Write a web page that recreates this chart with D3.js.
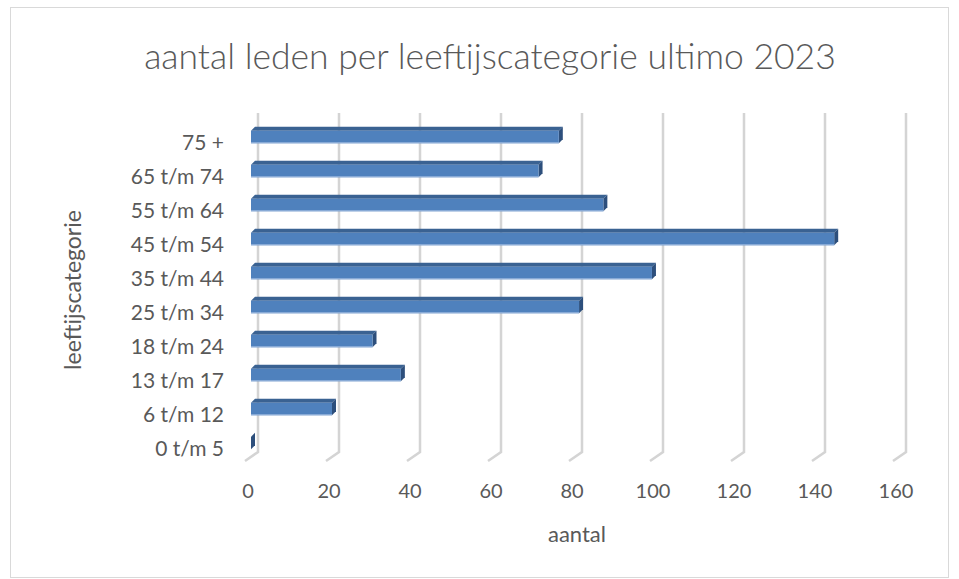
<!DOCTYPE html>
<html>
<head>
<meta charset="utf-8">
<script src="https://cdn.jsdelivr.net/npm/d3@7"></script>
<style>
  body { margin: 0; background: #fff; }
  text { font-family: Lato, "Open Sans", sans-serif; fill: #595959; }
</style>
</head>
<body>
<div id="chart"></div>
<script>
// data, bottom to top as in the chart
var categories = ["0 t/m 5", "6 t/m 12", "13 t/m 17", "18 t/m 24", "25 t/m 34",
                  "35 t/m 44", "45 t/m 54", "55 t/m 64", "65 t/m 74", "75 +"];
var members = [0, 20, 37, 30, 81, 99, 144, 87, 71, 76];
var xTicks = [0, 20, 40, 60, 80, 100, 120, 140, 160];

var width = 959, height = 579;

// 3d look: back wall and floor offset
var wallTop = 113, wallBottom = 452;
var floorDx = -13, floorDy = 9;
var barDx = 4, barDy = -4;

var svg = d3.select('#chart')
    .append('svg')
    .attr('width', width)
    .attr('height', height);

// chart border
svg.append('rect')
    .attr('x', 10.5).attr('y', 7.5)
    .attr('width', 938).attr('height', 570)
    .attr('fill', '#fff')
    .attr('stroke', '#d9d9d9');

// scales
var xBack = d3.scaleLinear().domain([0, 160]).range([258, 906]);
var xFront = d3.scaleLinear().domain([0, 160]).range([251, 899]);

var yScale = d3.scaleBand()
    .domain(categories.slice().reverse())
    .range([120, 460])
    .paddingInner(0.63)
    .paddingOuter(0.315);

// gridlines on back wall + floor
var grid = svg.append('g');
grid.selectAll('path')
    .data(xTicks)
    .enter()
    .append('path')
    .attr('d', d => 'M' + xBack(d) + ',' + wallTop + 'L' + xBack(d) + ',' + wallBottom +
        'L' + (xBack(d) + floorDx) + ',' + (wallBottom + floorDy))
    .attr('fill', 'none')
    .attr('stroke', '#d4d4d4')
    .attr('stroke-width', 2.5);

// tick labels
svg.append('g')
    .selectAll('text')
    .data(xTicks)
    .enter()
    .append('text')
    .attr('x', d => xBack(d) - 10)
    .attr('y', 490)
    .attr('text-anchor', 'middle')
    .attr('dominant-baseline', 'central')
    .style('font-size', '20px')
    .text(d => d);

// bars
var bars = svg.append('g')
    .selectAll('g')
    .data(categories.map((c, i) => ({ cat: c, value: members[i] })))
    .enter()
    .append('g');

var bh = yScale.bandwidth();

// top face
bars.append('path')
    .attr('d', function(d) {
        var x0 = xFront(0), x1 = xFront(d.value), y = yScale(d.cat);
        return 'M' + x0 + ',' + y + 'L' + x1 + ',' + y + 'L' + (x1 + barDx) + ',' + (y + barDy) +
            'L' + (x0 + barDx) + ',' + (y + barDy) + 'Z';
    })
    .attr('fill', '#3a6292');

// side face
bars.append('path')
    .attr('d', function(d) {
        var x1 = xFront(d.value), y = yScale(d.cat);
        return 'M' + x1 + ',' + y + 'L' + (x1 + barDx) + ',' + (y + barDy) +
            'L' + (x1 + barDx) + ',' + (y + barDy + bh) + 'L' + x1 + ',' + (y + bh) + 'Z';
    })
    .attr('fill', '#2d4f7c');

// front face
bars.append('rect')
    .attr('x', xFront(0))
    .attr('y', d => yScale(d.cat))
    .attr('width', d => xFront(d.value) - xFront(0))
    .attr('height', bh)
    .attr('fill', '#4f81bd');

bars.append('line')
    .attr('x1', xFront(0))
    .attr('x2', d => xFront(d.value))
    .attr('y1', d => yScale(d.cat) + bh - 0.5)
    .attr('y2', d => yScale(d.cat) + bh - 0.5)
    .attr('stroke', '#9fbbe0')
    .attr('stroke-width', 1);

// category labels
svg.append('g')
    .selectAll('text')
    .data(categories)
    .enter()
    .append('text')
    .attr('x', 224)
    .attr('y', d => yScale(d) + bh / 2 + 4)
    .attr('text-anchor', 'end')
    .attr('dominant-baseline', 'central')
    .style('font-size', '21px')
    .text(d => d);

// title
svg.append('text')
    .attr('x', 490)
    .attr('y', 55)
    .attr('text-anchor', 'middle')
    .attr('dominant-baseline', 'central')
    .style('font-size', '35.5px')
    .style('font-weight', 300)
    .text('aantal leden per leeftijscategorie ultimo 2023');

// axis titles
svg.append('text')
    .attr('x', 577)
    .attr('y', 533)
    .attr('text-anchor', 'middle')
    .attr('dominant-baseline', 'central')
    .style('font-size', '22px')
    .text('aantal');

svg.append('text')
    .attr('transform', 'translate(72,290) rotate(-90)')
    .attr('text-anchor', 'middle')
    .attr('dominant-baseline', 'central')
    .style('font-size', '23px')
    .text('leeftijscategorie');
</script>
</body>
</html>
